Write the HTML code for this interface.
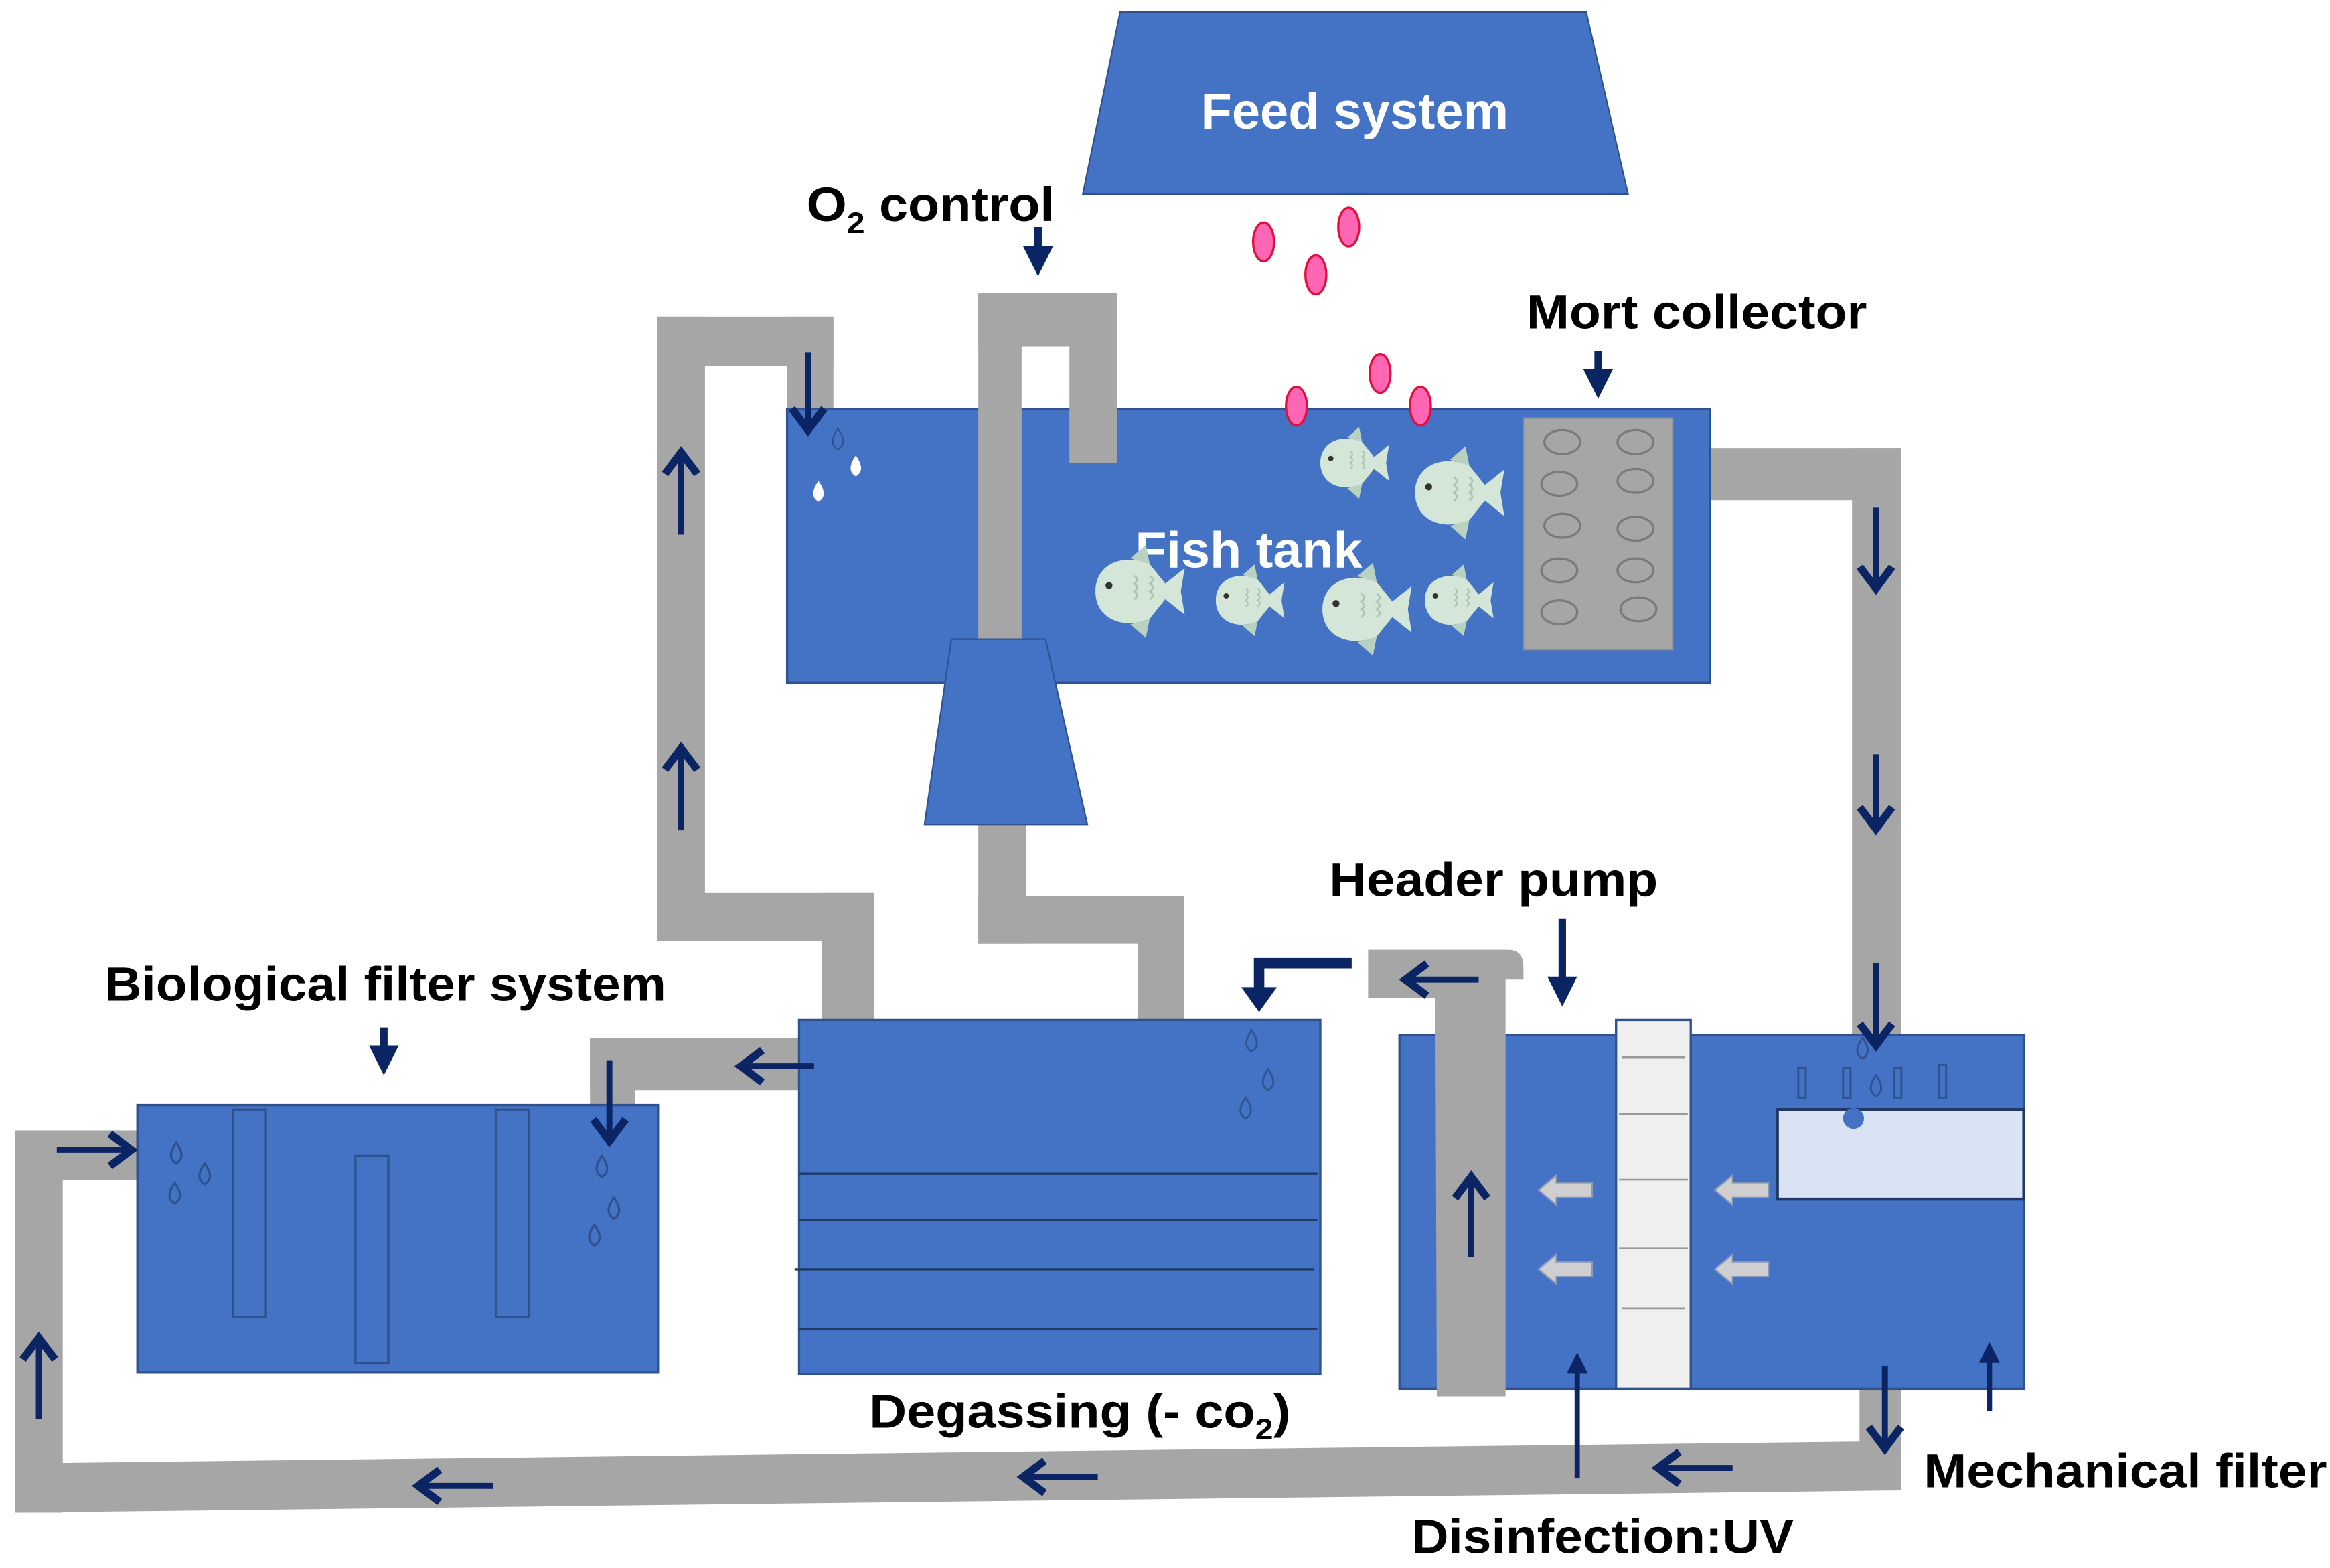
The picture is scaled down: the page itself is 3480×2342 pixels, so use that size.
<!DOCTYPE html>
<html><head><meta charset="utf-8"><style>
html,body{margin:0;padding:0;background:#fff;}
svg{display:block;}
text{font-family:"Liberation Sans",Arial,sans-serif;font-weight:bold;}
</style></head><body>
<svg width="3480" height="2342" viewBox="0 0 1560 1050" preserveAspectRatio="none" xmlns="http://www.w3.org/2000/svg">
<defs>
<marker id="ah" markerWidth="4" markerHeight="4" refX="2.2" refY="2" orient="auto" markerUnits="strokeWidth">
<path d="M0,0 L4,2 L0,4 Z" fill="#0a2464"/></marker>
<marker id="ao" markerWidth="7" markerHeight="7" refX="4.6" refY="3.5" orient="auto" markerUnits="strokeWidth">
<path d="M1,0.8 L4.6,3.5 L1,6.2" fill="none" stroke="#0a2464" stroke-width="1.3"/></marker>
<g id="fish">
<path d="M-22,0 C-22,-14 -8,-20 6,-14 L14,-4 L24,-12 L22,0 L24,12 L14,4 L6,14 C-8,20 -22,14 -22,0 Z" fill="#d3e6d8"/>
<path d="M-4,-17 L4,-24 L6,-14 Z M-4,17 L4,24 L6,14 Z" fill="#b9d2bf"/>
<circle cx="-15" cy="-3" r="1.8" fill="#333"/>
<path d="M-2,-8 q3,2 0,4 q3,2 0,4 q3,2 0,4 M6,-8 q3,2 0,4 q3,2 0,4 q3,2 0,4" fill="none" stroke="#a9c7b2" stroke-width="1"/>
</g>
<g id="blk"><path d="M0,0 L12,-10 L12,-5 L36,-5 L36,5 L12,5 L12,10 Z" fill="#d0cece" stroke="#8a98b8" stroke-width="1"/></g>
</defs>

<!-- Feed system -->
<polygon points="750,8 1062,8 1090,130 725,130" fill="#4472c4" stroke="#2f528f" stroke-width="1"/>
<text x="907" y="86" font-size="34" fill="#fff" text-anchor="middle" textLength="206" lengthAdjust="spacingAndGlyphs">Feed system</text>

<!-- pipes gray -->
<g fill="#a6a6a6">
<rect x="440" y="212" width="118" height="33"/>
<rect x="527" y="212" width="31" height="78"/>
<rect x="440" y="212" width="32" height="418"/>
<rect x="440" y="598" width="145" height="32"/>
<rect x="550" y="598" width="35" height="87"/>
<rect x="655" y="550" width="32" height="82"/>
<rect x="655" y="600" width="138" height="32"/>
<rect x="762" y="600" width="31" height="102"/>
<rect x="1140" y="300" width="133" height="35"/>
<rect x="1240" y="300" width="33" height="400"/>
<rect x="395" y="695" width="140" height="35"/>
<rect x="395" y="695" width="30" height="65"/>
<polygon points="10,980 1273,965 1273,998 10,1013"/>
<rect x="1245" y="928" width="28" height="70"/>
<rect x="10" y="757" width="32" height="256"/>
<rect x="10" y="757" width="82" height="33"/>
</g>

<!-- Fish tank -->
<rect x="527" y="274" width="618" height="183" fill="#4472c4" stroke="#2f528f" stroke-width="1.5"/>
<g fill="#a6a6a6">
<rect x="655" y="196" width="93" height="36"/>
<rect x="655" y="196" width="29" height="234"/>
<rect x="716" y="196" width="32" height="114"/>
</g>
<polygon points="637,428 700,428 728,552 619,552" fill="#4472c4" stroke="#2f528f" stroke-width="1"/>

<!-- pellets -->
<g fill="#ff66b3" stroke="#e0103a" stroke-width="1.5">
<ellipse cx="846" cy="162" rx="7" ry="13"/><ellipse cx="903" cy="152" rx="7" ry="13"/>
<ellipse cx="881" cy="184" rx="7" ry="13"/><ellipse cx="924" cy="250" rx="7" ry="13"/>
<ellipse cx="868" cy="272" rx="7" ry="13"/><ellipse cx="951" cy="272" rx="7" ry="13"/>
</g>

<!-- Mort collector -->
<rect x="1020" y="280" width="100" height="155" fill="#a6a6a6" stroke="#8c8c8c"/>
<g fill="none" stroke="#7a7a7a" stroke-width="1.5">
<ellipse cx="1046" cy="296" rx="12" ry="8"/><ellipse cx="1095" cy="296" rx="12" ry="8"/>
<ellipse cx="1044" cy="324" rx="12" ry="8"/><ellipse cx="1095" cy="322" rx="12" ry="8"/>
<ellipse cx="1046" cy="352" rx="12" ry="8"/><ellipse cx="1095" cy="354" rx="12" ry="8"/>
<ellipse cx="1044" cy="382" rx="12" ry="8"/><ellipse cx="1095" cy="382" rx="12" ry="8"/>
<ellipse cx="1044" cy="410" rx="12" ry="8"/><ellipse cx="1097" cy="408" rx="12" ry="8"/>
</g>

<text x="760" y="380" font-size="34" fill="#fff" textLength="152" lengthAdjust="spacingAndGlyphs">Fish tank</text>
<use href="#fish" transform="translate(906,310) scale(1)"/>
<use href="#fish" transform="translate(976,330) scale(1.3)"/>
<use href="#fish" transform="translate(762,396) scale(1.3)"/>
<use href="#fish" transform="translate(836,402) scale(1)"/>
<use href="#fish" transform="translate(914,408) scale(1.3)"/>
<use href="#fish" transform="translate(976,402) scale(1)"/>

<g>
<path d="M561,287 q-7,10 0,14 q7,-4 0,-14z" fill="none" stroke="#2f528f"/>
<path d="M573,305 q-7,10 0,14 q7,-4 0,-14z" fill="#fff"/>
<path d="M548,322 q-7,10 0,14 q7,-4 0,-14z" fill="#fff"/>
</g>

<!-- Degassing tank -->
<rect x="535" y="683" width="349" height="237" fill="#4472c4" stroke="#2f528f" stroke-width="1.5"/>
<g stroke="#203864" stroke-width="1.5">
<line x1="535" y1="786" x2="882" y2="786"/><line x1="535" y1="817" x2="882" y2="817"/>
<line x1="532" y1="850" x2="880" y2="850"/><line x1="535" y1="890" x2="882" y2="890"/>
</g>
<g fill="none" stroke="#2f528f" stroke-width="1.2">
<path d="M838,690 q-7,10 0,14 q7,-4 0,-14z"/><path d="M849,716 q-7,10 0,14 q7,-4 0,-14z"/><path d="M834,735 q-7,10 0,14 q7,-4 0,-14z"/>
</g>

<!-- Bio filter -->
<rect x="92" y="740" width="349" height="179" fill="#4472c4" stroke="#2f528f" stroke-width="1.5"/>
<g fill="none" stroke="#2f528f" stroke-width="1.5">
<rect x="156" y="743" width="22" height="139"/><rect x="238" y="774" width="22" height="139"/><rect x="332" y="743" width="22" height="139"/>
<path d="M118,765 q-7,10 0,14 q7,-4 0,-14z"/><path d="M137,779 q-7,10 0,14 q7,-4 0,-14z"/><path d="M117,792 q-7,10 0,14 q7,-4 0,-14z"/>
<path d="M403,774 q-7,10 0,14 q7,-4 0,-14z"/><path d="M411,802 q-7,10 0,14 q7,-4 0,-14z"/><path d="M398,820 q-7,10 0,14 q7,-4 0,-14z"/>
</g>

<!-- Mechanical / UV tank -->
<rect x="937" y="693" width="418" height="237" fill="#4472c4" stroke="#2f528f" stroke-width="1.5"/>
<rect x="1190" y="743" width="165" height="60" fill="#dae3f3" stroke="#203864" stroke-width="2"/>
<circle cx="1241" cy="749" r="7" fill="#4472c4"/>
<g fill="none" stroke="#2f528f" stroke-width="1.3">
<rect x="1204" y="715" width="5" height="20"/><rect x="1234" y="715" width="5" height="20"/><rect x="1268" y="715" width="5" height="20"/><rect x="1298" y="713" width="5" height="22"/>
<path d="M1247,695 q-7,10 0,14 q7,-4 0,-14z"/><path d="M1256,720 q-7,10 0,14 q7,-4 0,-14z"/>
</g>
<rect x="1082" y="683" width="50" height="247" fill="#efefef" stroke="#2f528f" stroke-width="1.5"/>
<g stroke="#999" stroke-width="1.2">
<line x1="1086" y1="708" x2="1128" y2="708"/><line x1="1084" y1="746" x2="1130" y2="746"/><line x1="1084" y1="790" x2="1130" y2="790"/>
<line x1="1084" y1="836" x2="1130" y2="836"/><line x1="1086" y1="876" x2="1128" y2="876"/>
</g>
<path d="M916,636 L1010,636 Q1020,636 1020,648 L1020,656 L1008,656 L1008,935 L962,935 L961,668 L916,668 Z" fill="#a6a6a6"/>

<use href="#blk" transform="translate(1030,797)"/>
<use href="#blk" transform="translate(1148,797)"/>
<use href="#blk" transform="translate(1030,850)"/>
<use href="#blk" transform="translate(1148,850)"/>

<!-- arrows -->
<g stroke="#0a2464" stroke-width="5" fill="none">
<line x1="695" y1="152" x2="695" y2="176" marker-end="url(#ah)"/>
<line x1="1070" y1="235" x2="1070" y2="258" marker-end="url(#ah)"/>
<line x1="257" y1="688" x2="257" y2="711" marker-end="url(#ah)"/>
<line x1="1046" y1="615" x2="1046" y2="665" marker-end="url(#ah)"/>
<line x1="1056" y1="990" x2="1056" y2="912" stroke-width="3.5" marker-end="url(#ah)"/>
<line x1="1332" y1="945" x2="1332" y2="905" stroke-width="3.5" marker-end="url(#ah)"/>
<path d="M905,645 L843,645 L843,665" stroke-width="7"/>
<path d="M833,662 L843,676 L853,662 Z" fill="#0a2464" stroke-width="2"/>
</g>
<g stroke="#0a2464" stroke-width="4" fill="none" marker-end="url(#ao)">
<line x1="456" y1="358" x2="456" y2="303"/>
<line x1="456" y1="556" x2="456" y2="501"/>
<line x1="541" y1="236" x2="541" y2="288"/>
<line x1="1256" y1="340" x2="1256" y2="394"/>
<line x1="1256" y1="505" x2="1256" y2="555"/>
<line x1="1256" y1="645" x2="1256" y2="700"/>
<line x1="545" y1="714" x2="496" y2="714"/>
<line x1="408" y1="710" x2="408" y2="764"/>
<line x1="38" y1="770" x2="88" y2="770"/>
<line x1="26" y1="950" x2="26" y2="896"/>
<line x1="330" y1="995" x2="280" y2="995"/>
<line x1="735" y1="989" x2="685" y2="989"/>
<line x1="1160" y1="983" x2="1110" y2="983"/>
<line x1="1262" y1="915" x2="1262" y2="970"/>
<line x1="990" y1="656" x2="941" y2="656"/>
<line x1="985" y1="842" x2="985" y2="788"/>
</g>

<!-- labels -->
<g font-size="32" fill="#000">
<text x="540" y="148" textLength="166" lengthAdjust="spacingAndGlyphs">O<tspan font-size="20" dy="8">2</tspan><tspan dy="-8"> control</tspan></text>
<text x="1022" y="220" textLength="228" lengthAdjust="spacingAndGlyphs">Mort collector</text>
<text x="890" y="600" textLength="220" lengthAdjust="spacingAndGlyphs">Header pump</text>
<text x="70" y="670" textLength="376" lengthAdjust="spacingAndGlyphs">Biological filter system</text>
<text x="582" y="956" textLength="282" lengthAdjust="spacingAndGlyphs">Degassing (- co<tspan font-size="20" dy="8">2</tspan><tspan dy="-8">)</tspan></text>
<text x="1288" y="996" textLength="270" lengthAdjust="spacingAndGlyphs">Mechanical filter</text>
<text x="945" y="1040" textLength="256" lengthAdjust="spacingAndGlyphs">Disinfection:UV</text>
</g>
</svg>
</body></html>
